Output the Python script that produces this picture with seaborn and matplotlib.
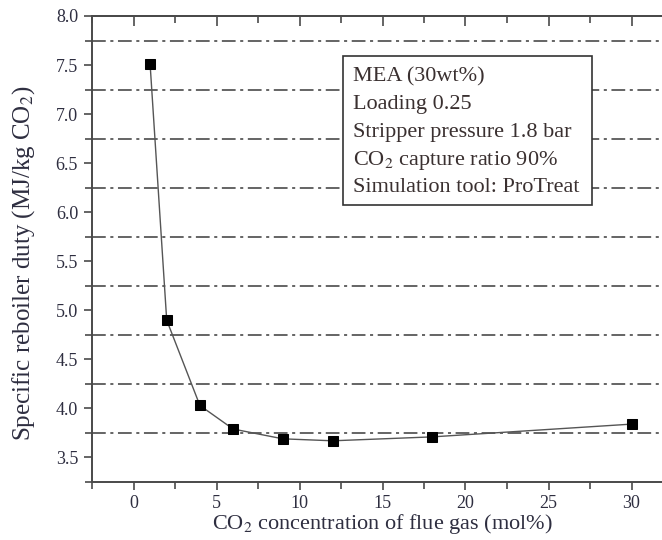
import numpy as np
import pandas as pd
import matplotlib
matplotlib.use('Agg')
import matplotlib.pyplot as plt
import seaborn as sns
from matplotlib.patches import Rectangle
from matplotlib.ticker import MultipleLocator, FormatStrFormatter, NullFormatter

# data
co2_conc = [1, 2, 4, 6, 9, 12, 18, 30]
reboiler_duty = [7.51, 4.90, 4.03, 3.79, 3.69, 3.67, 3.71, 3.84]
grid_levels = [3.75, 4.25, 4.75, 5.25, 5.75, 6.25, 6.75, 7.25, 7.75]
info_lines = ['MEA (30wt%)', 'Loading 0.25', 'Stripper pressure 1.8 bar',
              'CO$_2$ capture ratio 90%', 'Simulation tool: ProTreat']

sns.set_style('ticks')
plt.rcParams['font.family'] = ['Liberation Serif', 'DejaVu Serif']
plt.rcParams['mathtext.fontset'] = 'stix'

txt_col = '#2e2e40'
axis_col = '#4a4a4a'

df = pd.DataFrame({'x': co2_conc, 'y': reboiler_duty})

fig = plt.figure(figsize=(6.62, 5.4), dpi=100)
ax = fig.add_axes([92 / 662, 58 / 540, 581 / 662, 466 / 540])

# dash-dot reference lines
for lv in grid_levels:
    ax.axhline(lv, color='#3a3a3a', lw=1.1, dashes=(9, 3, 2, 3), zorder=1)

sns.lineplot(data=df, x='x', y='y', ax=ax, color='#555555', lw=1.0,
             marker='s', markersize=7.8, markerfacecolor='black',
             markeredgecolor='black', zorder=3)

ax.set_xlim(-2.5, 32.5)
ax.set_ylim(3.25, 8.0)
ax.xaxis.set_major_locator(MultipleLocator(5))
ax.xaxis.set_minor_locator(MultipleLocator(2.5))
ax.yaxis.set_major_locator(MultipleLocator(0.5))
ax.yaxis.set_minor_locator(MultipleLocator(0.25))
ax.yaxis.set_major_formatter(FormatStrFormatter('%.1f'))

ax.tick_params(axis='both', which='both', direction='out', colors=axis_col,
               labelcolor=txt_col, labelsize=13, width=1.2)
ax.tick_params(which='major', length=6)
ax.tick_params(which='minor', length=5)
ax.tick_params(axis='x', which='major', pad=3)
ax.tick_params(axis='y', which='major', pad=4)

# inward ticks on the top edge
top = ax.secondary_xaxis('top')
top.xaxis.set_major_locator(MultipleLocator(5))
top.xaxis.set_minor_locator(MultipleLocator(2.5))
top.xaxis.set_major_formatter(NullFormatter())
top.tick_params(which='both', direction='in', colors=axis_col, width=1.2)
top.tick_params(which='major', length=7)
top.tick_params(which='minor', length=5)
top.spines['top'].set_color(axis_col)
top.spines['top'].set_linewidth(1.4)

for side in ['left', 'bottom', 'top']:
    ax.spines[side].set_color(axis_col)
    ax.spines[side].set_linewidth(1.4)
ax.spines['right'].set_visible(False)

ax.set_xlabel('CO$_2$ concentration of flue gas (mol%)', fontsize=16, color=txt_col, labelpad=0)
ax.set_ylabel('Specific reboiler duty (MJ/kg CO$_2$)', fontsize=18, color=txt_col)
ax.yaxis.set_label_coords(-0.095, 0.47)

# info box
bx0, by0 = 12.6, 6.07
bx1, by1 = 27.6, 7.59
ax.add_patch(Rectangle((bx0, by0), bx1 - bx0, by1 - by0, facecolor='white',
                       edgecolor='#333333', lw=1.2, zorder=4))
for i, line in enumerate(info_lines):
    ax.text(13.2, 7.38 - i * 0.283, line, fontsize=16, color='#3a3030',
            va='center', ha='left', zorder=5)

fig.savefig('out.png', dpi=100)
